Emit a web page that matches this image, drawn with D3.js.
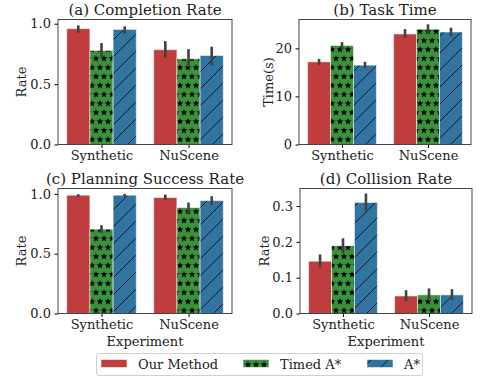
<!DOCTYPE html>
<html>
<head>
<meta charset="utf-8">
<script src="https://cdn.jsdelivr.net/npm/d3@7"></script>
<style>
  html, body { margin: 0; padding: 0; background: #fff; }
  svg { display: block; font-family: "DejaVu Serif", serif; }
</style>
</head>
<body>
<svg id="chart" width="480" height="377"></svg>
<script>
(() => {
  /* ---------- DATA ---------- */
  const categories = ["Synthetic", "NuScene"];
  const methods = ["Our Method", "Timed A*", "A*"];

  // [mean, lo, hi] per method, per category
  const completion = [
    [[0.959, 0.925, 0.986], [0.779, 0.71, 0.84], [0.953, 0.917, 0.978]],
    [[0.785, 0.718, 0.856], [0.71, 0.64, 0.79], [0.737, 0.655, 0.81]]
  ];
  const taskTime = [
    [[17.2, 16.5, 17.8], [20.6, 19.8, 21.3], [16.5, 15.9, 17.2]],
    [[23.0, 22.2, 24.0], [24.0, 23.1, 25.0], [23.4, 22.5, 24.3]]
  ];
  const planning = [
    [[0.989, 0.975, 0.997], [0.705, 0.674, 0.738], [0.989, 0.978, 1.0]],
    [[0.969, 0.947, 0.994], [0.886, 0.844, 0.928], [0.944, 0.908, 0.98]]
  ];
  const collision = [
    [[0.146, 0.128, 0.165], [0.189, 0.168, 0.21], [0.31, 0.287, 0.335]],
    [[0.049, 0.034, 0.065], [0.052, 0.035, 0.07], [0.052, 0.037, 0.068]]
  ];

  const panels = [
    { title: "(a) Completion Rate", ylabel: "Rate", data: completion,
      ymax: 1.035, ticks: [0, 0.5, 1.0], fmt: d3.format(".1f"),
      box: { l: 58, r: 232, t: 19.5, b: 144.5 }, xlabel: false, ylx: 21 },
    { title: "(b) Task Time", ylabel: "Time(s)", data: taskTime,
      ymax: 26, ticks: [0, 10, 20], fmt: d3.format("d"),
      box: { l: 299, r: 471, t: 19.5, b: 144.5 }, xlabel: false, ylx: 268 },
    { title: "(c) Planning Success Rate", ylabel: "Rate", data: planning,
      ymax: 1.045, ticks: [0, 0.5, 1.0], fmt: d3.format(".1f"),
      box: { l: 58, r: 232, t: 188.5, b: 313.5 }, xlabel: true, ylx: 21 },
    { title: "(d) Collision Rate", ylabel: "Rate", data: collision,
      ymax: 0.349, ticks: [0, 0.1, 0.2, 0.3], fmt: d3.format(".1f"),
      box: { l: 300, r: 472, t: 188.5, b: 313.5 }, xlabel: true, ylx: 264 }
  ];

  const COLORS = ["#c03d3e", "#3a923a", "#3274a1"];
  const FILLS = ["#c03d3e", "url(#stars)", "url(#slash)"];

  const svg = d3.select("#chart");

  /* ---------- PATTERNS ---------- */
  const defs = svg.append("defs");
  const starPath = (cx, cy, R) => {
    const r = R * 0.42;
    let p = "";
    for (let i = 0; i < 10; i++) {
      const a = -Math.PI / 2 + i * Math.PI / 5;
      const rr = i % 2 === 0 ? R : r;
      p += (i === 0 ? "M" : "L") + (cx + rr * Math.cos(a)).toFixed(2) + "," + (cy + rr * Math.sin(a)).toFixed(2);
    }
    return p + "Z";
  };
  const stars = defs.append("pattern")
    .attr("id", "stars")
    .attr("patternUnits", "userSpaceOnUse")
    .attr("width", 8).attr("height", 18);
  stars.append("rect").attr("width", 8).attr("height", 18).attr("fill", COLORS[1]);
  [[0, 4.5], [8, 4.5], [4, 13.5]].forEach(([x, y]) =>
    stars.append("path").attr("d", starPath(x, y, 3.6)).attr("fill", "#000"));

  const slash = defs.append("pattern")
    .attr("id", "slash")
    .attr("patternUnits", "userSpaceOnUse")
    .attr("width", 17).attr("height", 17);
  slash.append("rect").attr("width", 17).attr("height", 17).attr("fill", COLORS[2]);
  slash.append("path")
    .attr("d", "M-2,2 L2,-2 M0,17 L17,0 M15,19 L19,15")
    .attr("stroke", "#111").attr("stroke-width", 0.9);

  /* ---------- PANELS ---------- */
  panels.forEach(p => {
    const { l, r, t, b } = p.box;
    const g = svg.append("g");

    const x = d3.scaleLinear().domain([-0.5, 1.5]).range([l, r]);
    const y = d3.scaleLinear().domain([0, p.ymax]).range([b, t]);
    const bw = 0.8 / 3;

    const rows = [];
    p.data.forEach((cat, ci) => cat.forEach((v, mi) => rows.push({ ci, mi, v })));

    g.selectAll("rect.bar")
      .data(rows)
      .join("rect")
      .attr("class", "bar")
      .attr("x", d => x(d.ci - 0.4 + d.mi * bw))
      .attr("width", d => x(bw) - x(0))
      .attr("y", d => y(d.v[0]))
      .attr("height", d => y(0) - y(d.v[0]))
      .attr("fill", d => FILLS[d.mi])
      .attr("stroke", "rgba(255,255,255,0.55)")
      .attr("stroke-width", 1);

    g.selectAll("line.err")
      .data(rows)
      .join("line")
      .attr("class", "err")
      .attr("x1", d => x(d.ci - 0.4 + (d.mi + 0.5) * bw))
      .attr("x2", d => x(d.ci - 0.4 + (d.mi + 0.5) * bw))
      .attr("y1", d => y(d.v[1]))
      .attr("y2", d => y(d.v[2]))
      .attr("stroke", "#424242")
      .attr("stroke-width", 2.6);

    // axes
    g.append("g")
      .attr("transform", `translate(0,${b})`)
      .call(d3.axisBottom(x).tickValues([0, 1]).tickFormat(i => categories[i])
        .tickSize(3.5).tickPadding(3))
      .call(a => a.select(".domain").remove())
      .call(a => a.selectAll("text").attr("font-size", 13).attr("font-family", "DejaVu Serif").attr("fill", "#222"));

    g.append("g")
      .attr("transform", `translate(${l},0)`)
      .call(d3.axisLeft(y).tickValues(p.ticks).tickFormat(p.fmt)
        .tickSize(3.5).tickPadding(3.5))
      .call(a => a.select(".domain").remove())
      .call(a => a.selectAll("text").attr("font-size", 13).attr("font-family", "DejaVu Serif").attr("fill", "#222"));

    g.append("rect")
      .attr("x", l).attr("y", t)
      .attr("width", r - l).attr("height", b - t)
      .attr("fill", "none")
      .attr("stroke", "#444")
      .attr("stroke-width", 1);

    g.append("text")
      .attr("x", (l + r) / 2)
      .attr("y", t - 4.5)
      .attr("text-anchor", "middle")
      .attr("font-size", 15)
      .attr("fill", "#222")
      .text(p.title);

    g.append("text")
      .attr("transform", `translate(${p.ylx},${(t + b) / 2}) rotate(-90)`)
      .attr("text-anchor", "middle")
      .attr("dominant-baseline", "central")
      .attr("font-size", 13)
      .attr("fill", "#222")
      .text(p.ylabel);

    if (p.xlabel) {
      g.append("text")
        .attr("x", (l + r) / 2)
        .attr("y", 346)
        .attr("text-anchor", "middle")
        .attr("font-size", 13)
        .attr("fill", "#222")
        .text("Experiment");
    }
  });

  /* ---------- LEGEND ---------- */
  const legend = svg.append("g");
  legend.append("rect")
    .attr("x", 96.5).attr("y", 353.5)
    .attr("width", 326).attr("height", 22)
    .attr("rx", 2.5)
    .attr("fill", "#fff")
    .attr("stroke", "#d0d0d0");

  const legendX = [101, 243, 367];
  methods.forEach((m, i) => {
    legend.append("rect")
      .attr("x", legendX[i]).attr("y", 359.5)
      .attr("width", 26).attr("height", 8)
      .attr("fill", FILLS[i])
      .attr("stroke", "rgba(255,255,255,0.55)");
    legend.append("text")
      .attr("x", legendX[i] + 37)
      .attr("y", 369)
      .attr("font-size", 13)
      .attr("fill", "#222")
      .text(m);
  });
})();
</script>
</body>
</html>
